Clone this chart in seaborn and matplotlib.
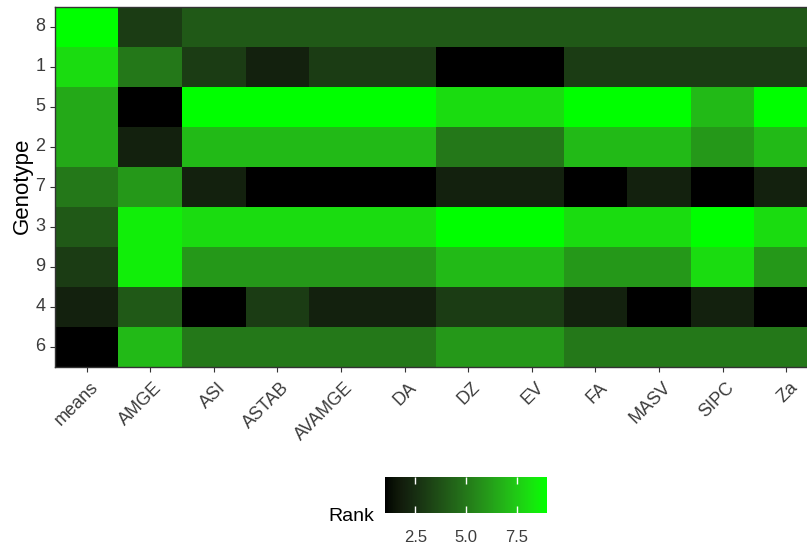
import numpy as np
import pandas as pd
import matplotlib
matplotlib.use("Agg")
import matplotlib.pyplot as plt
from matplotlib.colors import ListedColormap
from matplotlib.transforms import ScaledTranslation
import seaborn as sns

sns.set_theme(style="white")
plt.rcParams["font.family"] = ["Liberation Sans", "DejaVu Sans"]

# Genotypes top to bottom, ranking indices left to right
genotypes = ["8", "1", "5", "2", "7", "3", "9", "4", "6"]
indices = ["means", "AMGE", "ASI", "ASTAB", "AVAMGE", "DA", "DZ", "EV", "FA", "MASV", "SIPC", "Za"]

# Rank of each genotype (same order as genotypes) for each index
means = [9, 8, 6.5, 6.5, 5, 4, 3, 2, 1]
amge = [3, 5, 1, 2, 6, 8.5, 8.5, 4, 7]
asi = [4, 3, 9, 7, 2, 8, 6, 1, 5]
astab = [4, 2, 9, 7, 1, 8, 6, 3, 5]
avamge = [4, 3, 9, 7, 1, 8, 6, 2, 5]
da = [4, 3, 9, 7, 1, 8, 6, 2, 5]
dz = [4, 1, 8, 5, 2, 9, 7, 3, 6]
ev = [4, 1, 8, 5, 2, 9, 7, 3, 6]
fa = [4, 3, 9, 7, 1, 8, 6, 2, 5]
masv = [4, 3, 9, 7, 2, 8, 6, 1, 5]
sipc = [4, 3, 7, 6, 1, 9, 8, 2, 5]
za = [4, 3, 9, 7, 2, 8, 6, 1, 5]

df = pd.DataFrame(
    np.column_stack([means, amge, asi, astab, avamge, da, dz, ev, fa, masv, sipc, za]),
    index=genotypes, columns=indices,
)


# black -> green gradient interpolated in CIELAB (like ggplot's scale_fill_gradient)
def lab_ramp(n=256):
    t = np.linspace(0, 1, n)
    L, a, b = 87.735 * t, -86.183 * t, 83.179 * t
    fy = (L + 16) / 116
    fx = fy + a / 500
    fz = fy - b / 200

    def finv(f):
        return np.where(f > 6 / 29, f ** 3, 3 * (6 / 29) ** 2 * (f - 4 / 29))

    xyz = np.stack([0.95047 * finv(fx), finv(fy), 1.08883 * finv(fz)], -1)
    m = np.array([[3.2406, -1.5372, -0.4986],
                  [-0.9689, 1.8758, 0.0415],
                  [0.0557, -0.2040, 1.0570]])
    rgb = np.clip(xyz @ m.T, 0, 1)
    rgb = np.where(rgb <= 0.0031308, 12.92 * rgb, 1.055 * rgb ** (1 / 2.4) - 0.055)
    return ListedColormap(np.clip(rgb, 0, 1))


cmap = lab_ramp()

fig = plt.figure(figsize=(8.07, 5.46), dpi=100)
ax = fig.add_axes([0.0680, 0.3284, 0.9456, 0.6593])
cax = fig.add_axes([0.4771, 0.0604, 0.2007, 0.0659])

sns.heatmap(df, cmap=cmap, vmin=1, vmax=9, ax=ax, cbar_ax=cax,
            cbar_kws={"orientation": "horizontal", "ticks": [2.5, 5.0, 7.5], "format": "%.1f"})

grey = "#3c3c3c"
ax.set_xlabel("")
ax.set_ylabel("")
ax.tick_params(axis="both", length=3.8, width=0.8, color="#333333", labelcolor=grey,
               labelsize=13, left=True, bottom=True)
ax.tick_params(axis="y", pad=3)
ax.tick_params(axis="x", pad=5)
ax.set_yticklabels(genotypes, rotation=0)
ax.set_xticklabels(indices, rotation=45, ha="right", va="top", rotation_mode="anchor")
shift = ScaledTranslation(3 / 100, 0, fig.dpi_scale_trans)
for lbl in ax.get_xticklabels():
    lbl.set_transform(lbl.get_transform() + shift)
for s in ax.spines.values():
    s.set_visible(True)
    s.set_color("#333333")
    s.set_linewidth(1.0)

fig.text(22 / 807, 1 - 186 / 546, "Genotype", rotation=90, ha="center", va="center",
         fontsize=16, color="black")

cax.set_axisbelow(False)
cax.tick_params(axis="x", direction="in", length=5, width=1, color="white",
                top=True, bottom=True, labelcolor=grey, labelsize=12, pad=12)
fig.text(374 / 807, 1 - 521 / 546, "Rank", ha="right", va="baseline", fontsize=14, color="black")

fig.savefig("out.png", dpi=100)
